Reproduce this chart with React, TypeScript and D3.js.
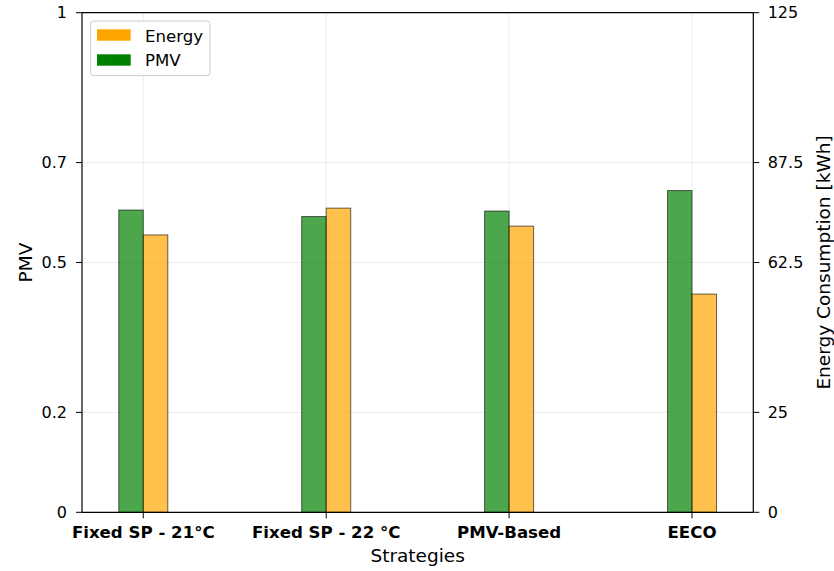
import React from "react";
import * as d3 from "d3";

// Strategies compared, with mean PMV (left axis) and energy use (right axis)
const strategies = ["Fixed SP - 21°C", "Fixed SP - 22 °C", "PMV-Based", "EECO"];
const pmvValues = [0.605, 0.592, 0.603, 0.644];
const energyValues = [69.4, 76.1, 71.6, 54.6];
const pmvTicks = [0, 0.2, 0.5, 0.7, 1];
const energyTicks = [0, 25, 62.5, 87.5, 125];

const W = 834;
const H = 571;
const M = { left: 82, right: 753.3, top: 12.7, bottom: 512.3 };
const BAR_W = 0.134;
const FONT = "DejaVu Sans, sans-serif";

export default function App() {
  const x = d3.scaleLinear().domain([-0.335, 3.335]).range([M.left, M.right]);
  const yPmv = d3.scaleLinear().domain([0, 1]).range([M.bottom, M.top]);
  const yEnergy = d3.scaleLinear().domain([0, 125]).range([M.bottom, M.top]);
  const bw = x(BAR_W) - x(0);

  return (
    <svg width={W} height={H} style={{ position: "absolute", left: 0, top: 0 }} fontFamily={FONT}>
      <rect x={0} y={0} width={W} height={H} fill="#fff" />
      {/* grid */}
      <g stroke="#b0b0b0" strokeOpacity={0.3} strokeWidth={0.8}>
        {strategies.map((_, i) => (
          <line key={"gx" + i} x1={x(i)} x2={x(i)} y1={M.top} y2={M.bottom} />
        ))}
        {pmvTicks.map((t) => (
          <line key={"gy" + t} x1={M.left} x2={M.right} y1={yPmv(t)} y2={yPmv(t)} />
        ))}
      </g>
      {/* bars */}
      {strategies.map((s, i) => (
        <g key={s} stroke="#000" strokeOpacity={0.6} strokeWidth={1}>
          <rect
            x={x(i) - bw}
            y={yPmv(pmvValues[i])}
            width={bw}
            height={yPmv(0) - yPmv(pmvValues[i])}
            fill="green"
            fillOpacity={0.7}
          />
          <rect
            x={x(i)}
            y={yEnergy(energyValues[i])}
            width={bw}
            height={yEnergy(0) - yEnergy(energyValues[i])}
            fill="orange"
            fillOpacity={0.7}
          />
        </g>
      ))}
      {/* frame */}
      <g stroke="#000" strokeWidth={1.2} fill="none">
        <line x1={M.left} x2={M.right} y1={M.top} y2={M.top} />
        <line x1={M.left} x2={M.right} y1={M.bottom} y2={M.bottom} />
        <line x1={M.left} x2={M.left} y1={M.top} y2={M.bottom} />
        <line x1={M.right} x2={M.right} y1={M.top} y2={M.bottom} />
      </g>
      {/* left axis */}
      {pmvTicks.map((t) => (
        <g key={"l" + t}>
          <line x1={M.left - 6} x2={M.left} y1={yPmv(t)} y2={yPmv(t)} stroke="#000" strokeWidth={1} />
          <text x={M.left - 15} y={yPmv(t)} dy="0.36em" textAnchor="end" fontSize={16}>
            {String(t)}
          </text>
        </g>
      ))}
      {/* right axis */}
      {energyTicks.map((t) => (
        <g key={"r" + t}>
          <line x1={M.right} x2={M.right + 6} y1={yEnergy(t)} y2={yEnergy(t)} stroke="#000" strokeWidth={1} />
          <text x={M.right + 14.4} y={yEnergy(t)} dy="0.36em" textAnchor="start" fontSize={16}>
            {t}
          </text>
        </g>
      ))}
      {/* x axis */}
      {strategies.map((s, i) => (
        <g key={"x" + i}>
          <line x1={x(i)} x2={x(i)} y1={M.bottom} y2={M.bottom + 6} stroke="#000" strokeWidth={1} />
          <text x={x(i)} y={538} textAnchor="middle" fontSize={16.6} fontWeight="bold">
            {s}
          </text>
        </g>
      ))}
      <text x={(M.left + M.right) / 2} y={562} textAnchor="middle" fontSize={18.5}>
        Strategies
      </text>
      <text transform={`translate(31.5, ${(M.top + M.bottom) / 2}) rotate(-90)`} textAnchor="middle" fontSize={18.5}>
        PMV
      </text>
      <text transform={`translate(829.5, ${(M.top + M.bottom) / 2}) rotate(-90)`} textAnchor="middle" fontSize={18.5}>
        Energy Consumption [kWh]
      </text>
      {/* legend */}
      <g>
        <rect x={90.7} y={21} width={119.3} height={54.7} rx={3} fill="#fff" fillOpacity={0.8} stroke="#ccc" strokeWidth={1} />
        <rect x={97} y={29.3} width={33.7} height={11.4} fill="orange" />
        <text x={145} y={41.7} fontSize={16.6}>Energy</text>
        <rect x={97} y={54.3} width={33.7} height={11.4} fill="green" />
        <text x={145} y={65.5} fontSize={16.6}>PMV</text>
      </g>
    </svg>
  );
}
